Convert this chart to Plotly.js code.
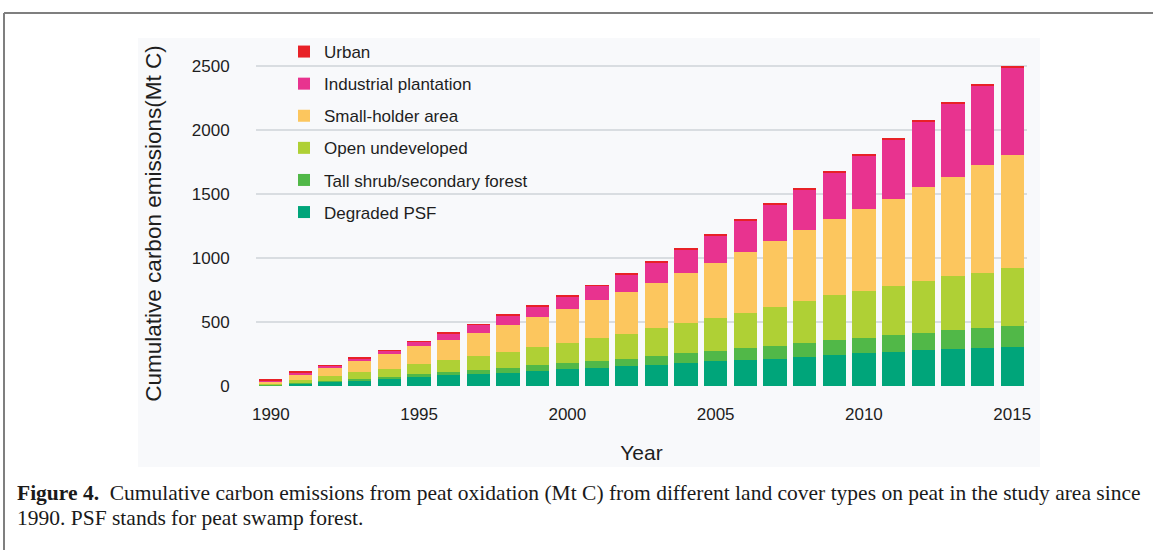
<!DOCTYPE html>
<html>
<head>
<meta charset="utf-8">
<script src="https://cdn.plot.ly/plotly-3.0.1.min.js"></script>
<style>
  html, body { margin: 0; padding: 0; background: #ffffff; }
  #chart { width: 1153px; height: 550px; }
</style>
</head>
<body>
<div id="chart"></div>
<script>
// ---- Data (Mt C, cumulative since 1990) ----
var years = [1990,1991,1992,1993,1994,1995,1996,1997,1998,1999,2000,2001,2002,2003,2004,2005,2006,2007,2008,2009,2010,2011,2012,2013,2014,2015];
var degradedPSF   = [5,17,34,43,57,69,84,94,104,117,130,138,156,164,182,198,203,213,229,242,260,268,279,289,299,307];
var tallShrub     = [3,5,7,15,16,21,22,31,39,45,47,60,56,70,73,75,91,102,109,115,117,130,135,146,156,164];
var openUndev     = [9,25,37,48,62,82,97,109,125,140,161,174,196,216,234,258,278,304,328,353,365,385,406,424,432,448];
var smallHolder   = [11,39,60,89,113,138,159,182,211,239,266,299,328,356,395,432,476,515,552,594,645,682,733,775,838,884];
var industrial    = [16,20,20,23,27,35,51,62,75,83,98,111,137,163,186,217,243,284,317,361,413,464,513,571,621,689];
var urban         = [4,5,6,6,6,6,6,6,6,6,6,6,7,7,7,7,7,8,8,8,9,9,10,10,11,10];
var seriesNames = ["Degraded PSF","Tall shrub/secondary forest","Open undeveloped","Small-holder area","Industrial plantation","Urban"];
var xTickVals = [1990,1995,2000,2005,2010,2015];
var xTickText = ["1990","1995","2000","2005","2010","2015"];
var yTickVals = [0,500,1000,1500,2000,2500];
var yTickText = ["0","500","1000","1500","2000","2500"];

// ---- Styles ----
var colors = ["#00a57a","#51b848","#afd035","#fcc65e","#e8338f","#e82127"];
var seriesData = [degradedPSF, tallShrub, openUndev, smallHolder, industrial, urban];

var traces = seriesData.map(function (vals, i) {
  return {
    type: "bar",
    name: seriesNames[i],
    legendgroup: "g" + i,
    legendrank: 1000 - i,
    x: years,
    y: vals,
    marker: { color: colors[i], line: { width: 0 } },
    hoverinfo: "x+y+name"
  };
});

// plot area in pixels
var W = 1153, H = 550;
var L = 256, R = 1027, T = 61, B = 386;
function px(x) { return (x - L) / (R - L); }
function py(y) { return (B - y) / (B - T); }

var FONT = "Liberation Sans, Arial, Helvetica, sans-serif";
var SERIF = "Liberation Serif, Times New Roman, serif";
var TXT = "#1e1e1e";

var layout = {
  width: W, height: H,
  margin: { l: L, r: W - R, t: T, b: H - B, pad: 0 },
  paper_bgcolor: "#ffffff",
  plot_bgcolor: "rgba(0,0,0,0)",
  barmode: "stack",
  bargap: 0.214,
  showlegend: true,
  legend: {
    x: px(284), y: py(34), xanchor: "left", yanchor: "top",
    bgcolor: "rgba(0,0,0,0)", borderwidth: 0,
    traceorder: "grouped",
    tracegroupgap: 7,
    font: { family: FONT, size: 17, color: TXT }
  },
  xaxis: {
    type: "linear",
    range: [1989.5, 2015.5],
    tickmode: "array", tickvals: xTickVals, ticktext: xTickText,
    showgrid: false, zeroline: false, showline: false,
    ticks: "outside", ticklen: 13, tickcolor: "rgba(0,0,0,0)",
    tickfont: { family: FONT, size: 17, color: TXT },
    title: { text: "Year", font: { family: FONT, size: 21, color: TXT }, standoff: 21 },
    fixedrange: true
  },
  yaxis: {
    range: [0, 2540],
    tickmode: "array", tickvals: yTickVals, ticktext: yTickText,
    showgrid: true, gridcolor: "#d9dde1", gridwidth: 2,
    zeroline: false, showline: false,
    ticks: "outside", ticklen: 22, tickcolor: "rgba(0,0,0,0)",
    tickfont: { family: FONT, size: 17, color: TXT },
    title: { text: "Cumulative carbon emissions(Mt C)", font: { family: FONT, size: 22.5, color: TXT }, standoff: 23 },
    fixedrange: true
  },
  shapes: [
    // light chart panel
    { type: "rect", xref: "paper", yref: "paper", layer: "below",
      x0: px(138), x1: px(1040), y0: py(467), y1: py(38),
      fillcolor: "#f8f9fb", line: { width: 0 } },
    // figure frame: top and left edges
    { type: "line", xref: "paper", yref: "paper",
      x0: px(4), x1: px(1160), y0: py(13), y1: py(13),
      line: { color: "#7f7f7f", width: 2 } },
    { type: "line", xref: "paper", yref: "paper",
      x0: px(4), x1: px(4), y0: py(13), y1: py(560),
      line: { color: "#7f7f7f", width: 2 } }
  ],
  annotations: [
    { xref: "paper", yref: "paper", x: px(15), y: py(493),
      xanchor: "left", yanchor: "middle", align: "left", showarrow: false,
      text: "<b>Figure 4.</b>  Cumulative carbon emissions from peat oxidation (Mt C) from different land cover types on peat in the study area since",
      font: { family: SERIF, size: 21.5, color: "#1a1a1a" } },
    { xref: "paper", yref: "paper", x: px(15), y: py(518),
      xanchor: "left", yanchor: "middle", align: "left", showarrow: false,
      text: "1990. PSF stands for peat swamp forest.",
      font: { family: SERIF, size: 21.5, color: "#1a1a1a" } }
  ]
};

Plotly.newPlot("chart", traces, layout, { displayModeBar: false });
</script>
</body>
</html>
